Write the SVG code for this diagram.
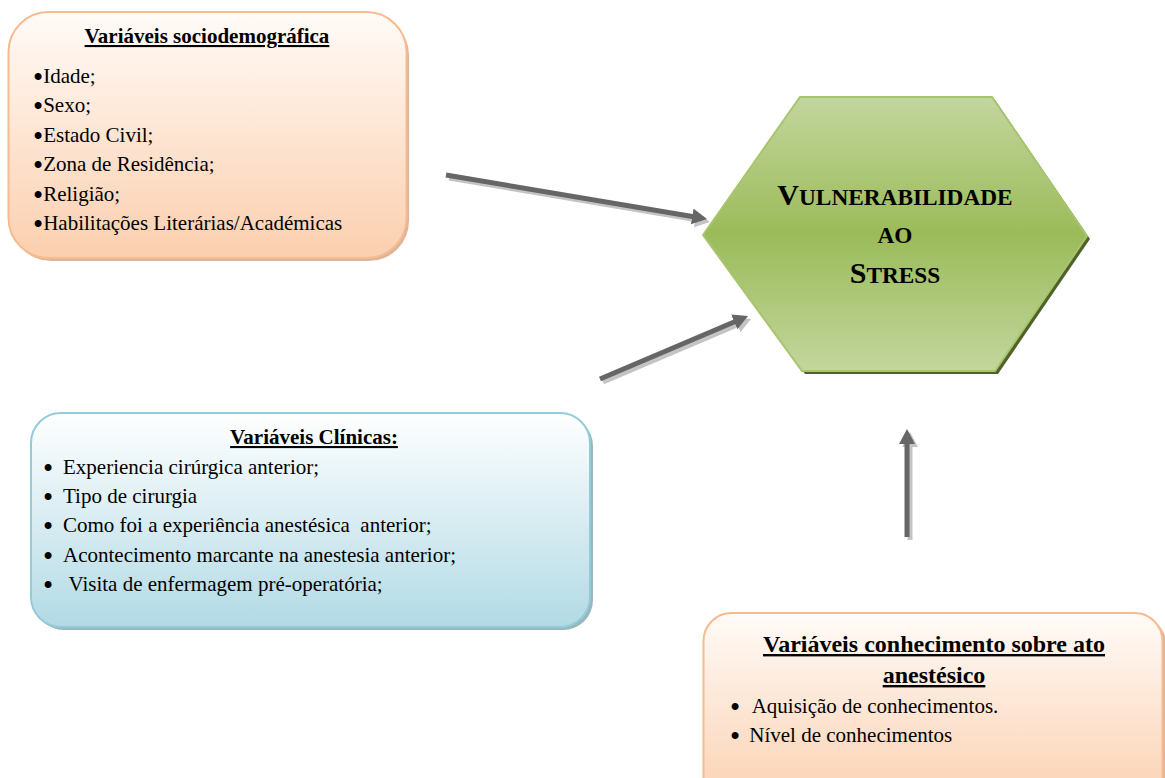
<svg xmlns="http://www.w3.org/2000/svg" width="1165" height="778" viewBox="0 0 1165 778">
<style>
.t{font-family:"Liberation Serif","Times New Roman",serif;fill:#000}
.it{font-size:21px}
.b{font-size:29px}
.h{font-size:21px;font-weight:bold;text-decoration:underline}
.hx{font-weight:bold;font-size:30px;text-anchor:middle}
.sc{font-size:23.3px}
.shaft{stroke:#666;stroke-width:5;fill:none}
.shadow{stroke:#c4c4c4;stroke-width:5;fill:none}
</style>
<defs>
<linearGradient id="gOr" x1="0" y1="0" x2="0" y2="1">
<stop offset="0" stop-color="#fffbf8"/>
<stop offset="1" stop-color="#fbcfae"/>
</linearGradient>
<linearGradient id="gBl" x1="0" y1="0" x2="0" y2="1">
<stop offset="0" stop-color="#ffffff"/>
<stop offset="1" stop-color="#b2dae5"/>
</linearGradient>
<linearGradient id="gGr" x1="0" y1="0" x2="0" y2="1">
<stop offset="0" stop-color="#c3d69e"/>
<stop offset="0.5" stop-color="#9bbb59"/>
<stop offset="1" stop-color="#c3d69e"/>
</linearGradient>
<marker id="mD" markerUnits="userSpaceOnUse" markerWidth="16" markerHeight="17" refX="3" refY="8" orient="auto" viewBox="0 0 16 17">
<path d="M0,0 L15,8 L0,16 z" fill="#666"/>
</marker>
<marker id="mL" markerUnits="userSpaceOnUse" markerWidth="16" markerHeight="17" refX="3" refY="8" orient="auto" viewBox="0 0 16 17">
<path d="M0,0 L15,8 L0,16 z" fill="#c4c4c4"/>
</marker>
</defs>
<rect width="1165" height="778" fill="#fff"/>

<g id="connectors">
<line class="shadow" x1="449" y1="178" x2="698.2" y2="220" marker-end="url(#mL)"/>
<line class="shaft" x1="446" y1="175" x2="695.2" y2="217" marker-end="url(#mD)"/>
<line class="shadow" x1="603" y1="382" x2="740" y2="323.7" marker-end="url(#mL)"/>
<line class="shaft" x1="600" y1="379" x2="737" y2="320.7" marker-end="url(#mD)"/>
<line class="shadow" x1="910" y1="540" x2="910" y2="444" marker-end="url(#mL)"/>
<line class="shaft" x1="907" y1="537" x2="907" y2="441" marker-end="url(#mD)"/>
</g>

<g id="sociodemografica">
<rect x="11" y="15" width="398" height="246" rx="40" fill="#d3a37f" opacity="0.8"/>
<rect x="8.5" y="12" width="398" height="246" rx="40" fill="url(#gOr)" stroke="#f8bb8f" stroke-width="2"/>
<text class="t h" x="207" y="43" text-anchor="middle">Variáveis sociodemográfica</text>
<text class="t it" x="33" y="82.5"><tspan class="b" dy="4">•</tspan><tspan dy="-4">Idade;</tspan></text>
<text class="t it" x="33" y="112"><tspan class="b" dy="4">•</tspan><tspan dy="-4">Sexo;</tspan></text>
<text class="t it" x="33" y="141.5"><tspan class="b" dy="4">•</tspan><tspan dy="-4">Estado Civil;</tspan></text>
<text class="t it" x="33" y="171"><tspan class="b" dy="4">•</tspan><tspan dy="-4">Zona de Residência;</tspan></text>
<text class="t it" x="33" y="200.5"><tspan class="b" dy="4">•</tspan><tspan dy="-4">Religião;</tspan></text>
<text class="t it" x="33" y="230"><tspan class="b" dy="4">•</tspan><tspan dy="-4">Habilitações Literárias/Académicas</tspan></text>
</g>

<g id="vulnerabilidade">
<polygon points="706,238 803,100 995,100 1090,239 998,374 805,374" fill="#4f6228"/>
<polygon points="703,235 800,97 992,97 1087,236 995,371 802,371" fill="url(#gGr)" stroke="#a9c46f" stroke-width="2"/>
<text class="t hx" x="895" y="205">V<tspan class="sc">ULNERABILIDADE</tspan></text>
<text class="t hx" x="895" y="243"><tspan class="sc">AO</tspan></text>
<text class="t hx" x="895" y="283">S<tspan class="sc">TRESS</tspan></text>
</g>

<g id="clinicas">
<rect x="34" y="416" width="559" height="214" rx="30" fill="#7fa3ae" opacity="0.8"/>
<rect x="31" y="413" width="559" height="214" rx="30" fill="url(#gBl)" stroke="#93cbd9" stroke-width="2"/>
<text class="t h" x="314" y="444" text-anchor="middle">Variáveis Clínicas:</text>
<text class="t b" x="43" y="478">•</text>
<text class="t it" x="63" y="474">Experiencia cirúrgica anterior;</text>
<text class="t b" x="43" y="507">•</text>
<text class="t it" x="63" y="503">Tipo de cirurgia</text>
<text class="t b" x="43" y="536">•</text>
<text class="t it" x="63" y="532" xml:space="preserve">Como foi a experiência anestésica  anterior;</text>
<text class="t b" x="43" y="565.5">•</text>
<text class="t it" x="63" y="561.5">Acontecimento marcante na anestesia anterior;</text>
<text class="t b" x="43" y="595">•</text>
<text class="t it" x="68.5" y="591">Visita de enfermagem pré-operatória;</text>
</g>

<g id="conhecimento">
<rect x="706" y="616" width="460" height="200" rx="28" fill="#d3a37f" opacity="0.8"/>
<rect x="703.5" y="613" width="459" height="200" rx="28" fill="url(#gOr)" stroke="#f8bb8f" stroke-width="2"/>
<text class="t h" x="934" y="652" text-anchor="middle" style="font-size:24px">Variáveis conhecimento sobre ato</text>
<text class="t h" x="934" y="683" text-anchor="middle" style="font-size:24px">anestésico</text>
<text class="t b" x="730" y="717">•</text>
<text class="t it" x="751.7" y="713">Aquisição de conhecimentos.</text>
<text class="t b" x="730" y="746">•</text>
<text class="t it" x="749.3" y="742">Nível de conhecimentos</text>
</g>
</svg>
